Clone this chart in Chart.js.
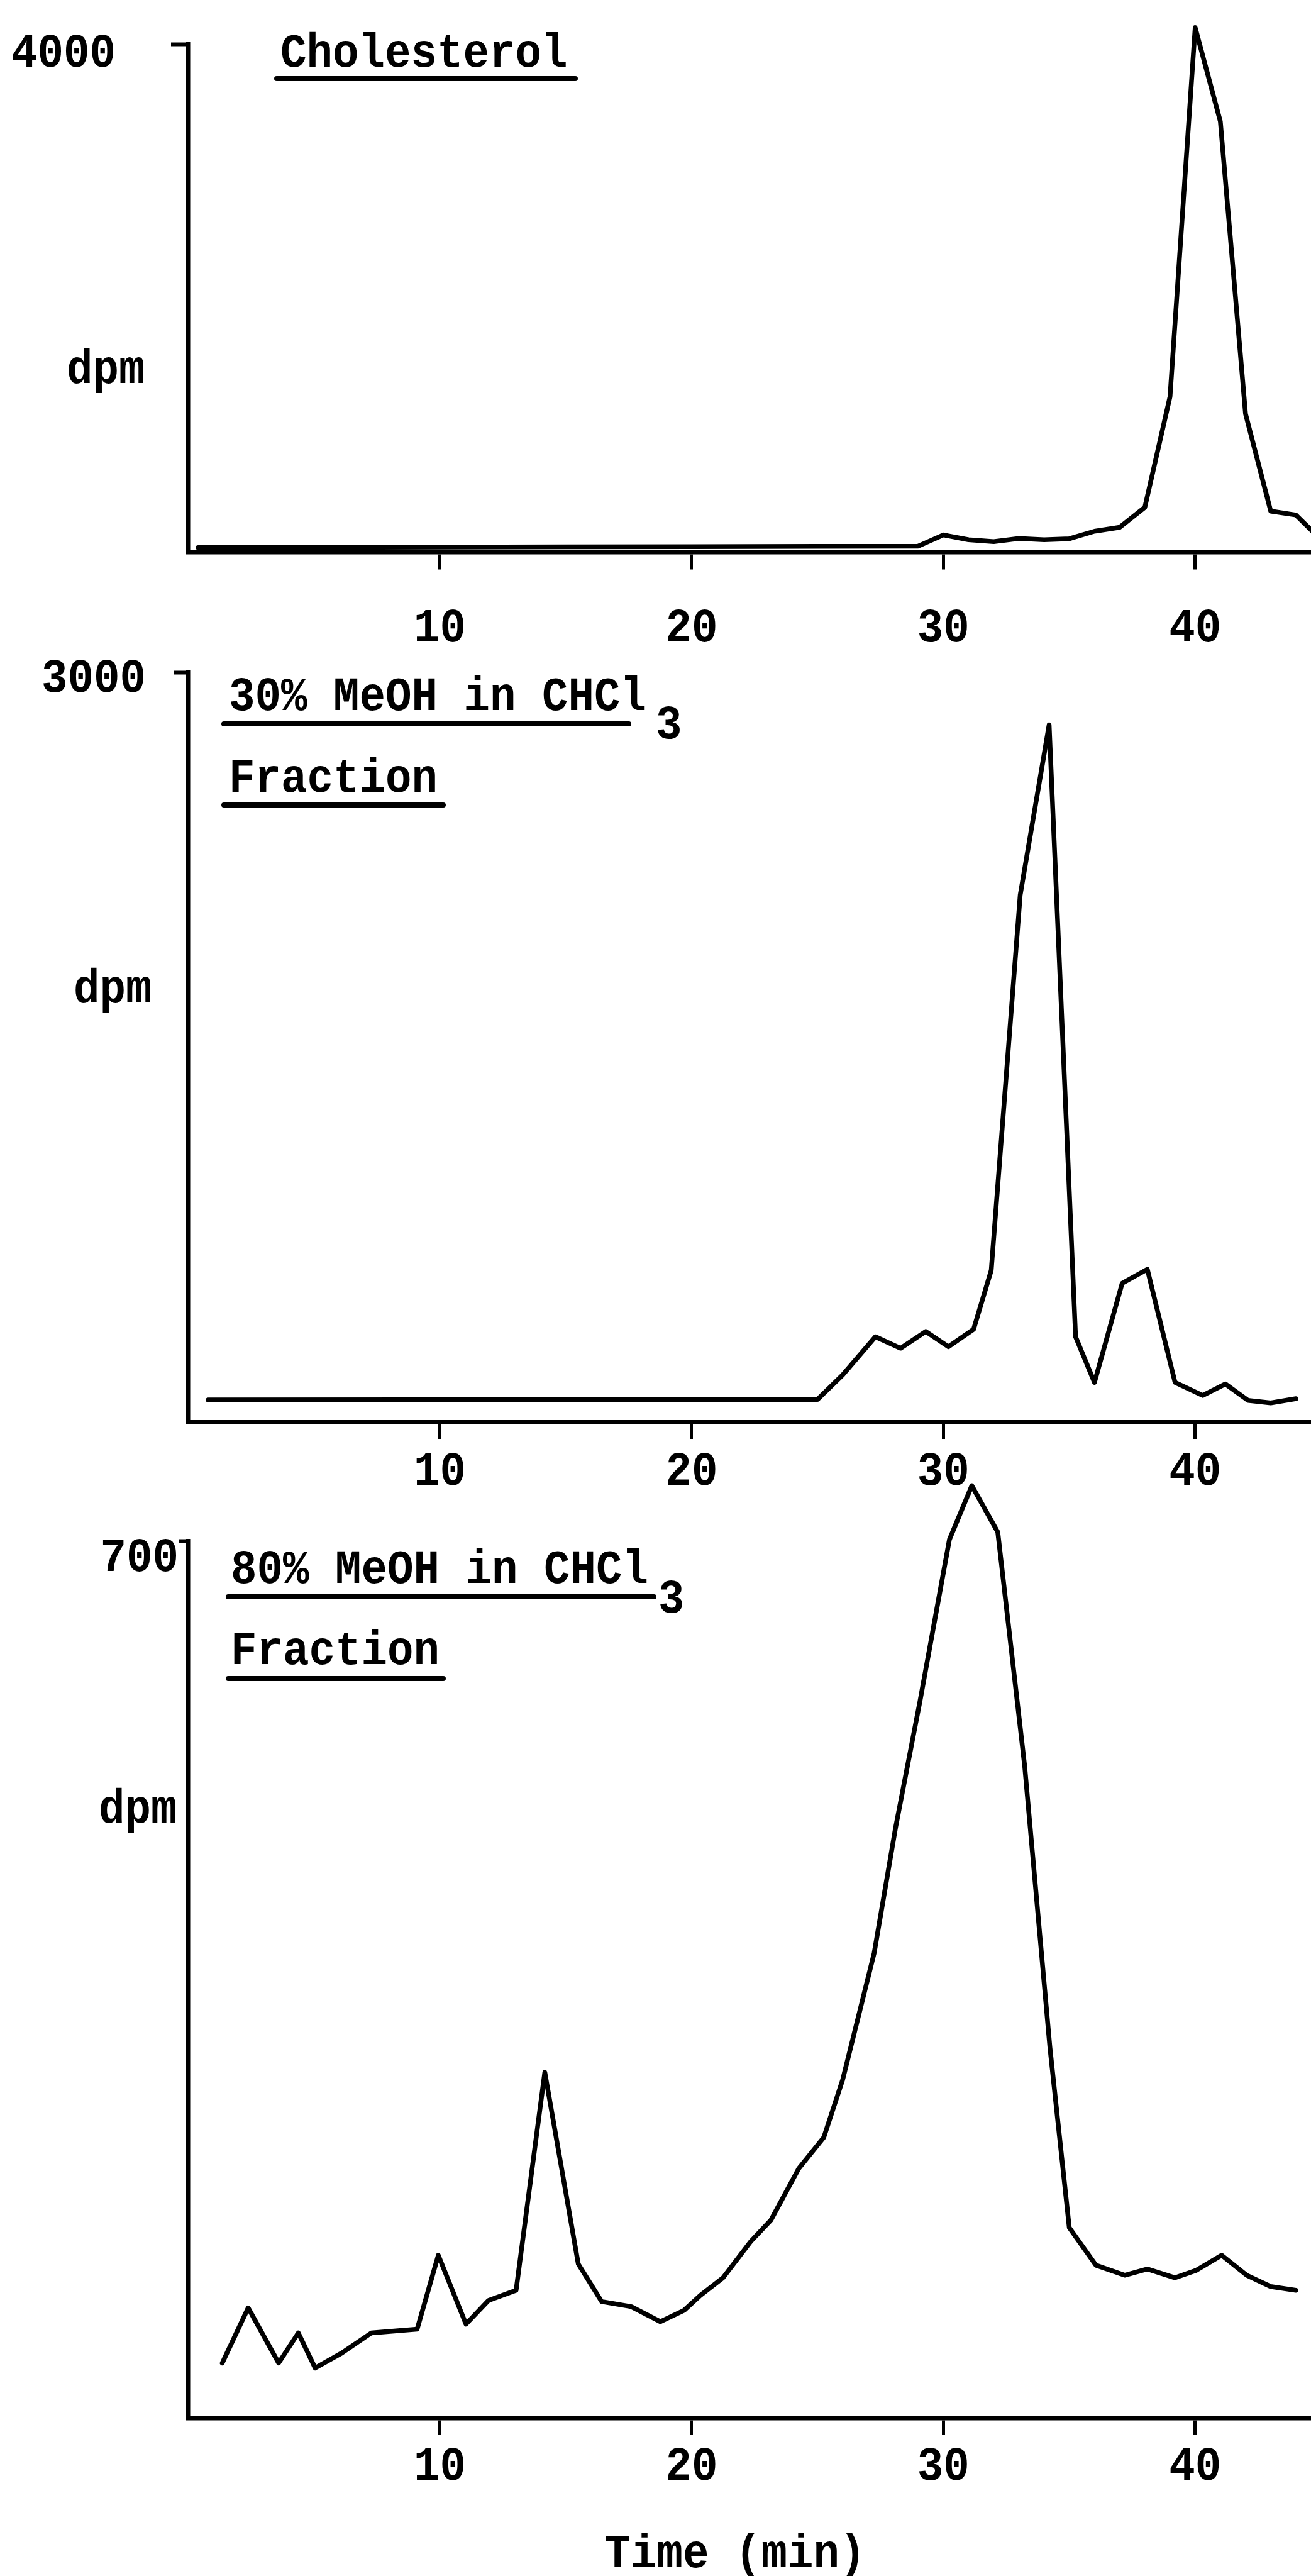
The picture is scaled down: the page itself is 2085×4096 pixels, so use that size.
<!DOCTYPE html>
<html>
<head>
<meta charset="utf-8">
<script src="https://cdn.jsdelivr.net/npm/chart.js@4.4.0/dist/chart.umd.min.js"></script>
<style>
  html, body { margin: 0; padding: 0; background: #fff; }
  body { width: 2085px; height: 4096px; position: relative; overflow: hidden; }
  canvas { position: absolute; left: 0; }
</style>
</head>
<body>
<canvas id="chol"></canvas>
<canvas id="meoh30"></canvas>
<canvas id="meoh80"></canvas>
<script>
let timeTicks = [10, 20, 30, 40];

let cholTime = [0.4, 5, 10, 15, 20, 25, 29, 30, 31, 32, 33, 34, 35, 36, 37, 38, 39, 40, 41, 42, 43, 44, 45];
let cholDpm = [38, 40, 42, 44, 46, 48, 50, 138, 100, 85, 110, 100, 108, 167, 198, 355, 1225, 4130, 3390, 1090, 325, 295, 100];

let meoh30Time = [0.8, 25.0, 26.0, 27.3, 28.3, 29.3, 30.2, 31.2, 31.9, 33.05, 34.2, 35.25, 36.0, 37.1, 38.1, 39.2, 40.3, 41.2, 42.1, 43.0, 44.0];
let meoh30Dpm = [88, 90, 188, 341, 295, 362, 301, 371, 607, 2108, 2790, 341, 158, 555, 611, 158, 106, 152, 86, 76, 93];

let meoh80Time = [1.36, 2.39, 3.6, 4.38, 5.05, 6.11, 7.28, 9.1, 9.94, 11.04, 11.94, 13.03, 14.17, 15.5, 16.43, 17.6, 18.76, 19.7, 20.35, 21.25, 22.35, 23.15, 24.25, 25.25, 26.0, 27.25, 28.1, 29.07, 30.24, 31.13, 32.16, 33.23, 34.23, 35.0, 36.06, 37.2, 38.1, 39.2, 40.05, 41.05, 42.05, 43.0, 44.0];
let meoh80Dpm = [44, 88, 44, 68, 40, 52, 68, 71, 130, 75, 94, 102, 276, 123, 93, 89, 77, 86, 98, 112, 141, 158, 199, 224, 270, 371, 471, 572, 701, 744, 707, 520, 296, 152, 122, 114, 119, 112, 118, 130, 114, 105, 102];

let dpmMax = [4000, 3000, 700];

// typewriter look: monospace, stretched a little vertically
const FONT = '"Liberation Mono", "DejaVu Sans Mono", monospace';
const PITCH = 41.5;
const CAP = 51;
const AXIS_LEFT = 299;

function typeText(ctx, str, x, y, align) {
  ctx.save();
  ctx.font = 'bold 100px ' + FONT;
  let w = ctx.measureText('0').width;
  let cap = ctx.measureText('H').actualBoundingBoxAscent;
  let size = 100 * PITCH / w;
  let sy = CAP / (cap * size / 100);
  ctx.font = 'bold ' + size.toFixed(2) + 'px ' + FONT;
  ctx.textAlign = align || 'left';
  ctx.textBaseline = 'alphabetic';
  ctx.fillStyle = '#000';
  ctx.translate(x, y);
  ctx.scale(1, sy);
  ctx.fillText(str, 0, 0);
  ctx.restore();
}

const typewriter = {
  id: 'typewriter',
  afterDraw(chart, args, opts) {
    let ctx = chart.ctx;
    let xs = chart.scales.x;
    let ys = chart.scales.y;
    ctx.save();
    ctx.translate(0, -opts.top);
    xs.ticks.forEach(t => {
      typeText(ctx, String(t.value), xs.getPixelForValue(t.value), opts.tickBase, 'center');
    });
    typeText(ctx, String(ys.max), opts.maxRight, opts.maxBase, 'right');
    typeText(ctx, 'dpm', opts.dpm[0], opts.dpm[1]);
    opts.lines.forEach(l => typeText(ctx, l[0], l[1], l[2]));
    ctx.strokeStyle = '#000';
    ctx.lineWidth = 8;
    ctx.lineCap = 'round';
    opts.rules.forEach(r => {
      ctx.beginPath();
      ctx.moveTo(r[0], r[2]);
      ctx.lineTo(r[1], r[2]);
      ctx.stroke();
    });
    ctx.restore();
  }
};

function makePanel(id, top, height, padTop, padBottom, yTick, time, dpm, yMax, text) {
  let canvas = document.getElementById(id);
  canvas.width = 2085;
  canvas.height = height;
  canvas.style.top = top + 'px';
  text.top = top;
  return new Chart(canvas.getContext('2d'), {
    type: 'line',
    data: {
      datasets: [{
        data: time.map((t, i) => ({ x: t, y: dpm[i] })),
        borderColor: '#000',
        borderWidth: 7.5,
        pointRadius: 0,
        tension: 0,
        fill: false,
        clip: false,
        borderJoinStyle: 'round',
        borderCapStyle: 'round'
      }]
    },
    options: {
      responsive: false,
      animation: false,
      events: [],
      layout: { padding: { left: AXIS_LEFT - yTick, right: 0, top: padTop, bottom: padBottom } },
      plugins: {
        legend: { display: false },
        tooltip: { enabled: false },
        typewriter: text
      },
      scales: {
        x: {
          type: 'linear',
          min: 0,
          max: 44.6,
          afterBuildTicks: (s) => { s.ticks = timeTicks.map(v => ({ value: v })); },
          ticks: { display: false },
          grid: { drawOnChartArea: false, tickLength: 27, tickWidth: 5, tickColor: '#000' },
          border: { color: '#000', width: 6.5 }
        },
        y: {
          min: 0,
          max: yMax,
          afterBuildTicks: (s) => { s.ticks = [{ value: yMax }]; },
          ticks: { display: false },
          grid: { drawOnChartArea: false, tickLength: yTick, tickWidth: 6, tickColor: '#000' },
          border: { color: '#000', width: 6.5 }
        }
      }
    },
    plugins: [typewriter]
  });
}

makePanel('chol', 0, 1060, 70, 154.5, 27, cholTime, cholDpm, dpmMax[0], {
  tickBase: 1020, maxRight: 184, maxBase: 105.5, dpm: [106, 609],
  lines: [['Cholesterol', 446, 105.5]],
  rules: [[440, 915, 125]]
});

makePanel('meoh30', 1040, 1360, 29, 112, 22, meoh30Time, meoh30Dpm, dpmMax[1], {
  tickBase: 2361, maxRight: 232, maxBase: 1100, dpm: [117, 1594],
  lines: [['30% MeOH in CHCl', 364, 1128.5], ['3', 1043, 1174], ['Fraction', 364, 1258.5]],
  rules: [[356, 1000, 1151], [356, 705, 1280]]
});

makePanel('meoh80', 2300, 1796, 150, 224, 15, meoh80Time, meoh80Dpm, dpmMax[2], {
  tickBase: 3943, maxRight: 284, maxBase: 2497.5, dpm: [157, 2898],
  lines: [['80% MeOH in CHCl', 367, 2516.5], ['3', 1047, 2564], ['Fraction', 367, 2645.5], ['Time (min)', 961.5, 4082]],
  rules: [[363, 1040, 2539], [363, 705, 2669]]
});
</script>
</body>
</html>
